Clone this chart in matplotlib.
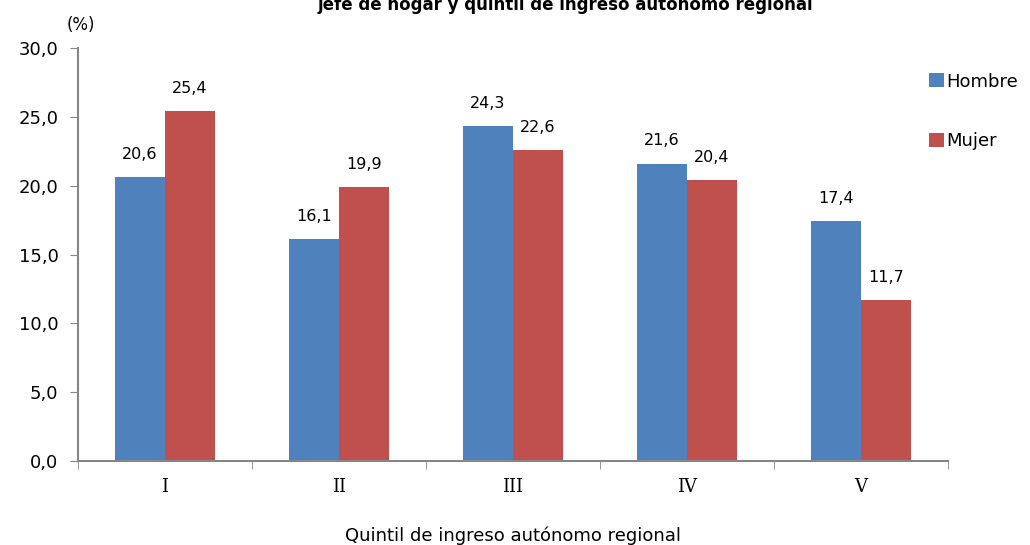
import numpy as np
import matplotlib.pyplot as plt

quintiles = ["I", "II", "III", "IV", "V"]
hombre = [20.6, 16.1, 24.3, 21.6, 17.4]
mujer = [25.4, 19.9, 22.6, 20.4, 11.7]
yticks = [0, 5, 10, 15, 20, 25, 30]

blue = "#4F81BD"
red = "#C0504D"
gray = "#868686"

plt.rcParams['font.family'] = ['DejaVu Sans']

fig = plt.figure(figsize=(10.3, 5.45), dpi=100)
ax = fig.add_axes([78 / 1030, 1 - 461 / 545, 870 / 1030, 413 / 545])

x = np.arange(len(quintiles))
w = 0.287
b1 = ax.bar(x - w / 2, hombre, w, color=blue, label="Hombre")
b2 = ax.bar(x + w / 2, mujer, w, color=red, label="Mujer")

for bars, vals in ((b1, hombre), (b2, mujer)):
    for bar, v in zip(bars, vals):
        ax.text(bar.get_x() + bar.get_width() / 2, v + 1.1, f"{v:.1f}".replace(".", ","),
                ha="center", va="bottom", fontsize=11.5)

ax.set_xlim(-0.5, 4.5)
ax.set_ylim(0, 30)
ax.set_yticks(yticks)
ax.set_yticklabels([f"{t:.1f}".replace(".", ",") for t in yticks], fontsize=13)
ax.set_xticks(x)
ax.set_xticklabels(quintiles, fontsize=13, family="DejaVu Serif")
ax.tick_params(axis="x", length=0, pad=12)
ax.set_xticks(np.arange(-0.5, 5, 1), minor=True)
ax.tick_params(axis="x", which="minor", length=6, color=gray, direction="out")
ax.tick_params(axis="y", length=6, color=gray, direction="out", pad=8)

for s in ("top", "right"):
    ax.spines[s].set_visible(False)
for s in ("left", "bottom"):
    ax.spines[s].set_color(gray)
    ax.spines[s].set_linewidth(1.5)

ax.set_xlabel("Quintil de ingreso autónomo regional", fontsize=13, labelpad=22)
ax.text(-0.013, 1.035, "(%)", transform=ax.transAxes, fontsize=12, ha="left", va="bottom")

ax.legend(loc="upper left", bbox_to_anchor=(0.96, 0.98), frameon=False, fontsize=13,
          handlelength=0.8, handleheight=0.8, handletextpad=0.15, labelspacing=2.3)

fig.text(565 / 1030, 1 - 5 / 545, "jefe de hogar y quintil de ingreso autónomo regional",
         ha="center", va="center", fontsize=12, fontweight="bold")

fig.savefig("out.png", dpi=100)
